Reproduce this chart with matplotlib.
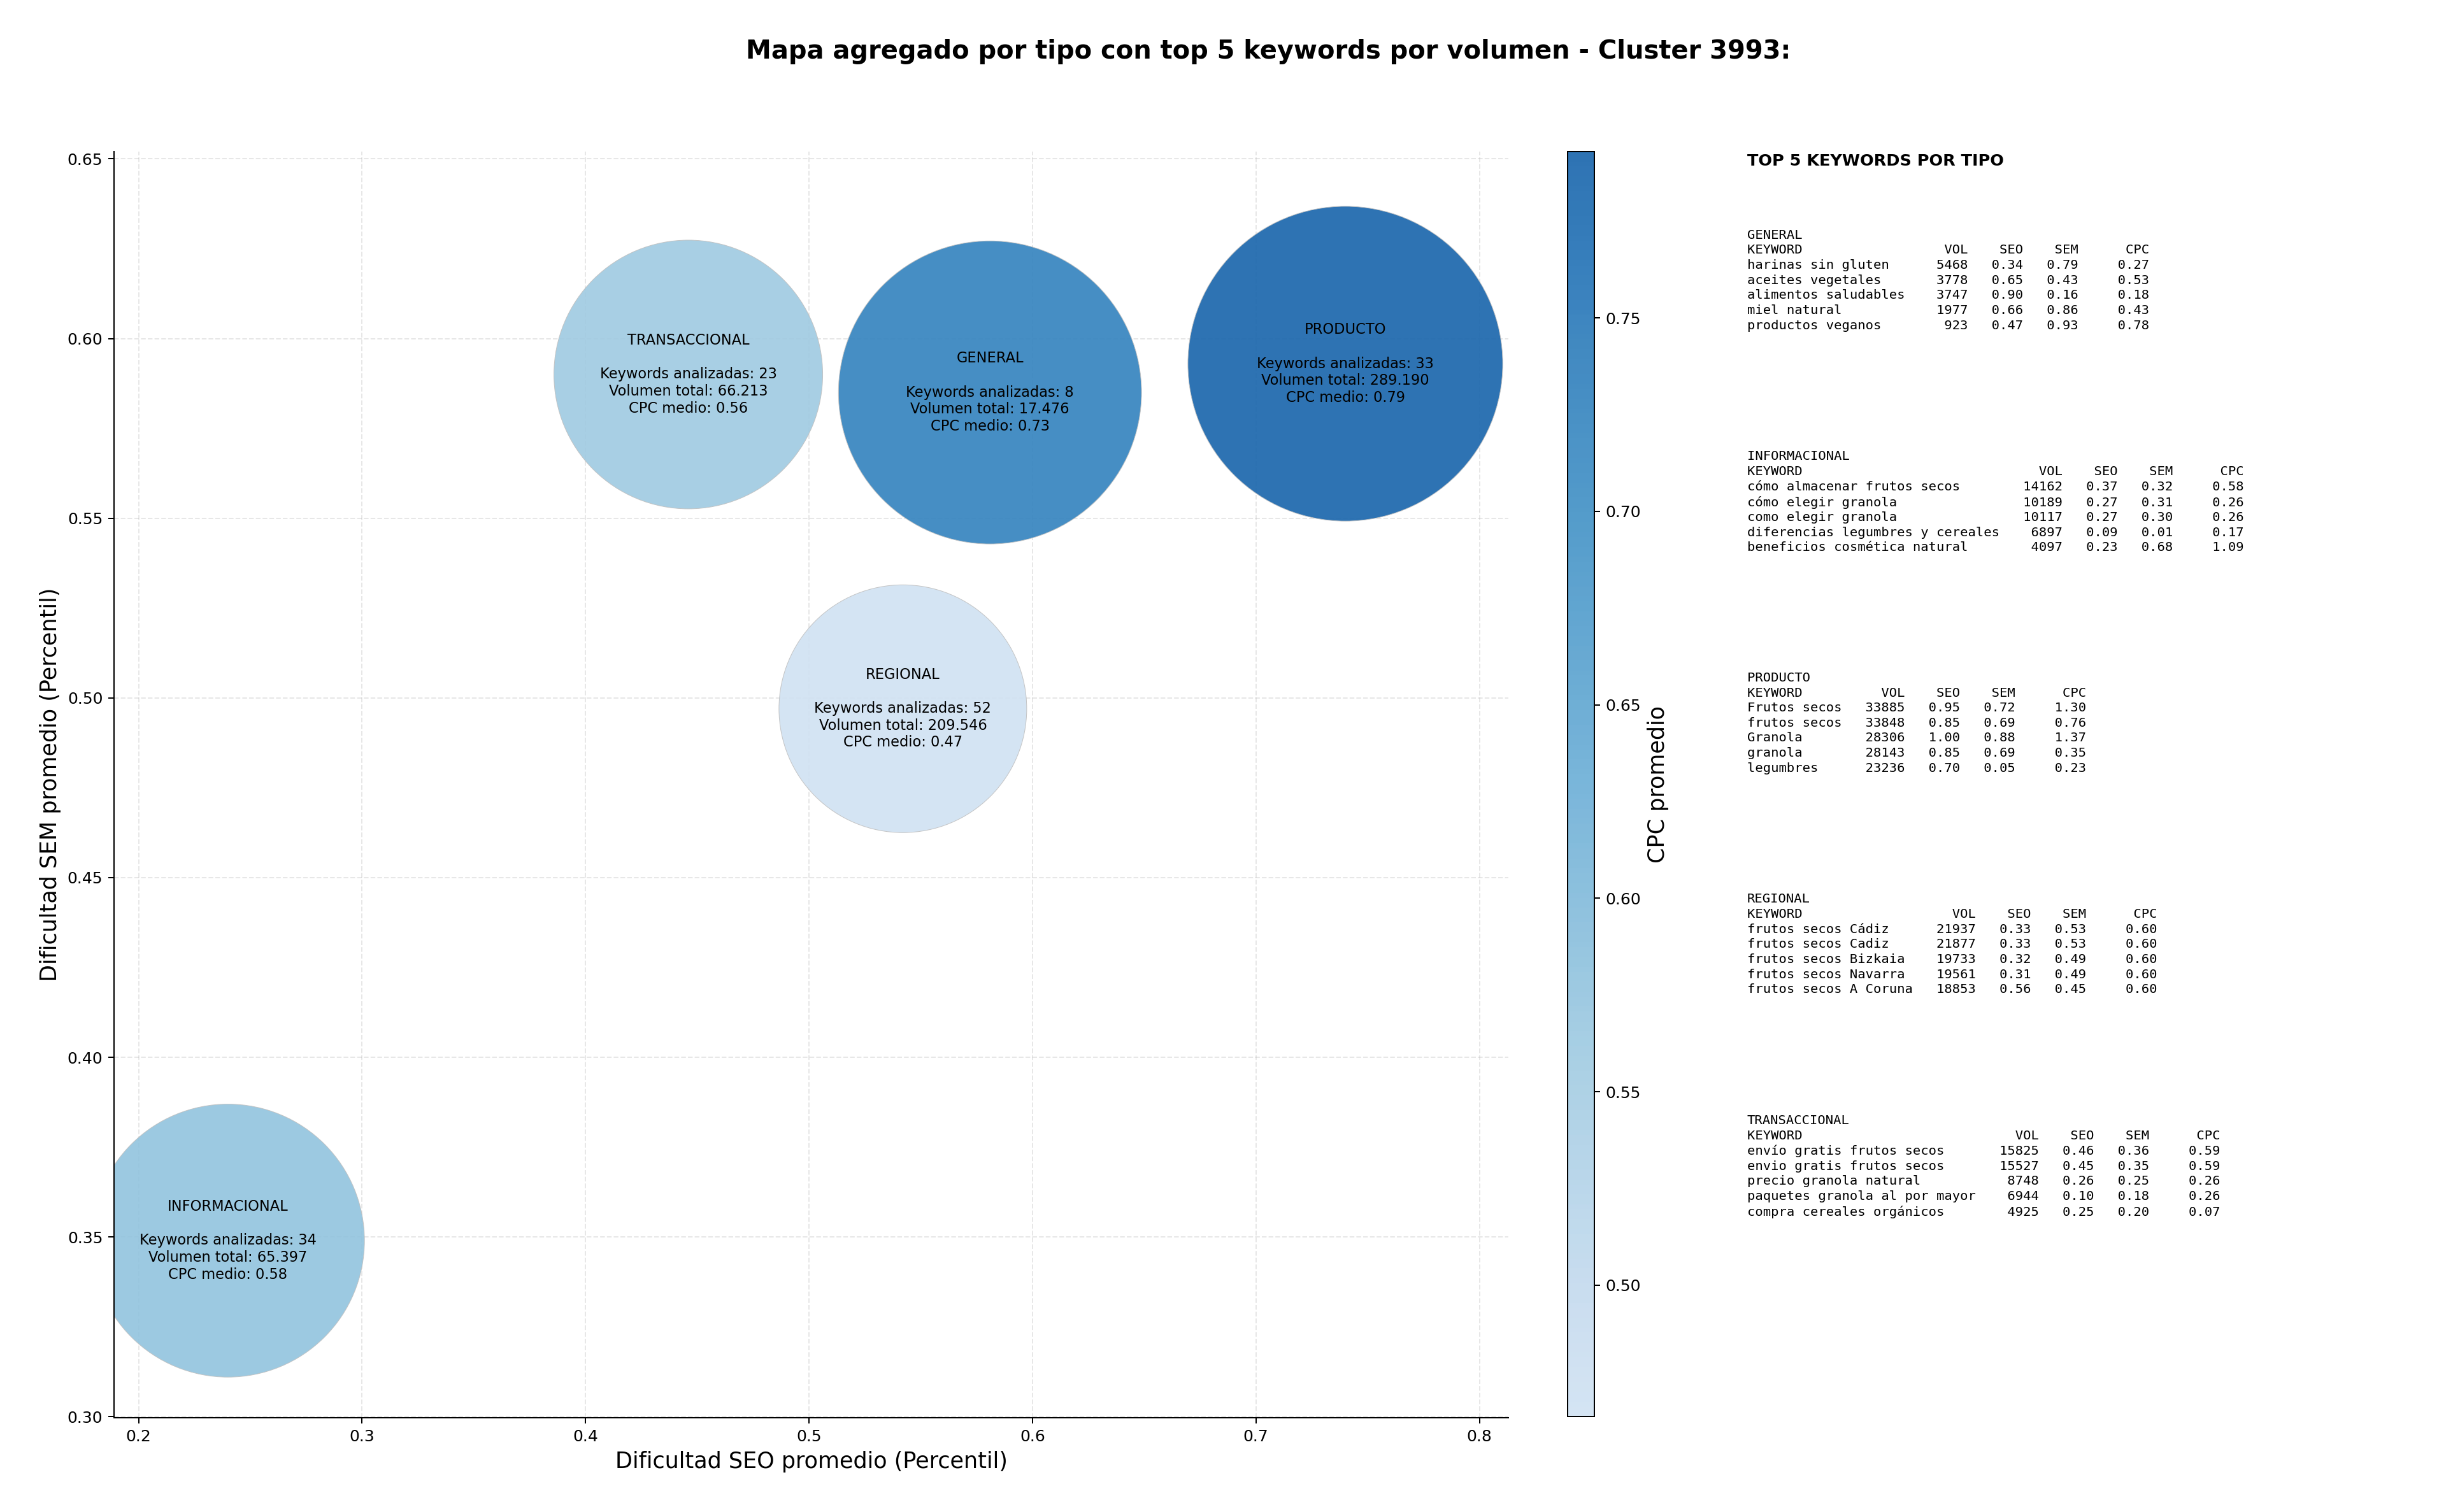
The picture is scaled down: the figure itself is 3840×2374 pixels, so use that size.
import numpy as np
import matplotlib
matplotlib.use("Agg")
import matplotlib.pyplot as plt
from matplotlib.colors import LinearSegmentedColormap, Normalize

# ---- aggregated values per type ----
TIPOS = ["GENERAL", "INFORMACIONAL", "PRODUCTO", "REGIONAL", "TRANSACCIONAL"]
SEO_MEAN = [0.581, 0.240, 0.740, 0.542, 0.446]
SEM_MEAN = [0.585, 0.349, 0.593, 0.497, 0.590]
CPC_MEAN = [0.730, 0.580, 0.793, 0.466, 0.560]
N_KEYWORDS = [8, 34, 33, 52, 23]
VOL_TOTAL = [17476, 65397, 289190, 209546, 66213]

# ---- top 5 keywords per type: keyword, vol, seo, sem, cpc ----
TOP_GENERAL = [
    ("harinas sin gluten", 5468, 0.34, 0.79, 0.27),
    ("aceites vegetales", 3778, 0.65, 0.43, 0.53),
    ("alimentos saludables", 3747, 0.90, 0.16, 0.18),
    ("miel natural", 1977, 0.66, 0.86, 0.43),
    ("productos veganos", 923, 0.47, 0.93, 0.78),
]
TOP_INFORMACIONAL = [
    ("cómo almacenar frutos secos", 14162, 0.37, 0.32, 0.58),
    ("cómo elegir granola", 10189, 0.27, 0.31, 0.26),
    ("como elegir granola", 10117, 0.27, 0.30, 0.26),
    ("diferencias legumbres y cereales", 6897, 0.09, 0.01, 0.17),
    ("beneficios cosmética natural", 4097, 0.23, 0.68, 1.09),
]
TOP_PRODUCTO = [
    ("Frutos secos", 33885, 0.95, 0.72, 1.30),
    ("frutos secos", 33848, 0.85, 0.69, 0.76),
    ("Granola", 28306, 1.00, 0.88, 1.37),
    ("granola", 28143, 0.85, 0.69, 0.35),
    ("legumbres", 23236, 0.70, 0.05, 0.23),
]
TOP_REGIONAL = [
    ("frutos secos Cádiz", 21937, 0.33, 0.53, 0.60),
    ("frutos secos Cadiz", 21877, 0.33, 0.53, 0.60),
    ("frutos secos Bizkaia", 19733, 0.32, 0.49, 0.60),
    ("frutos secos Navarra", 19561, 0.31, 0.49, 0.60),
    ("frutos secos A Coruna", 18853, 0.56, 0.45, 0.60),
]
TOP_TRANSACCIONAL = [
    ("envío gratis frutos secos", 15825, 0.46, 0.36, 0.59),
    ("envio gratis frutos secos", 15527, 0.45, 0.35, 0.59),
    ("precio granola natural", 8748, 0.26, 0.25, 0.26),
    ("paquetes granola al por mayor", 6944, 0.10, 0.18, 0.26),
    ("compra cereales orgánicos", 4925, 0.25, 0.20, 0.07),
]
TOP_BY_TIPO = [TOP_GENERAL, TOP_INFORMACIONAL, TOP_PRODUCTO, TOP_REGIONAL, TOP_TRANSACCIONAL]

CLUSTER_ID = 3993


def fmt_miles(v):
    return f"{v:,}".replace(",", ".")


def keyword_table(tipo, rows):
    w = max(len(r[0]) for r in rows)
    lines = [tipo, f"{'KEYWORD':<{w}}{'VOL':>8}{'SEO':>7}{'SEM':>7}{'CPC':>9}"]
    for kw, vol, seo, sem, cpc in rows:
        lines.append(f"{kw:<{w}}{vol:>8}{seo:>7.2f}{sem:>7.2f}{cpc:>9.2f}")
    return "\n".join(lines)


def main():
    dpi = 180
    fig = plt.figure(figsize=(3840 / dpi, 2374 / dpi), dpi=dpi)
    ax = fig.add_axes([0.0466, 0.0623, 0.5701, 0.8374])
    cax = fig.add_axes([0.6409, 0.0631, 0.0109, 0.8366])

    cmap = LinearSegmentedColormap.from_list(
        "blues_mid", plt.cm.Blues(np.linspace(0.2, 0.8, 256)))
    cpc = np.array(CPC_MEAN)
    norm = Normalize(vmin=cpc.min(), vmax=cpc.max())

    # bubble area grows with CPC
    sizes = 3000 + 45500 * cpc

    ax.set_axisbelow(True)
    ax.grid(True, linestyle="--", alpha=0.3)
    sc = ax.scatter(SEO_MEAN, SEM_MEAN, s=sizes, c=cpc, cmap=cmap, norm=norm,
                    alpha=0.9, edgecolors="#c0c0c0", linewidths=0.4, zorder=2)

    for tipo, x, y, n, vol, c in zip(TIPOS, SEO_MEAN, SEM_MEAN, N_KEYWORDS, VOL_TOTAL, CPC_MEAN):
        txt = (f"{tipo}\n\nKeywords analizadas: {n}\n"
               f"Volumen total: {fmt_miles(vol)}\nCPC medio: {c:.2f}")
        ax.text(x, y, txt, ha="center", va="center", fontsize=9, zorder=3)

    ax.set_xlim(0.189, 0.813)
    ax.set_ylim(0.2997, 0.652)
    ax.spines["top"].set_visible(False)
    ax.spines["right"].set_visible(False)
    ax.tick_params(labelsize=10)
    ax.set_xlabel("Dificultad SEO promedio (Percentil)", fontsize=14)
    ax.set_ylabel("Dificultad SEM promedio (Percentil)", fontsize=14)

    cb = fig.colorbar(sc, cax=cax)
    cb.set_label("CPC promedio", fontsize=14)
    cb.ax.tick_params(labelsize=10)

    fig.suptitle(f"Mapa agregado por tipo con top 5 keywords por volumen - Cluster {CLUSTER_ID}:",
                 x=0.5185, y=0.966, va="center", fontsize=16, fontweight="bold")

    # ---- keyword tables on the right ----
    fig.text(0.7143, 0.8985, "TOP 5 KEYWORDS POR TIPO", fontsize=10.2,
             fontweight="bold", va="top", ha="left")
    y0 = 0.8485
    step = 347.6 / 2374
    for i, (tipo, rows) in enumerate(zip(TIPOS, TOP_BY_TIPO)):
        fig.text(0.7143, y0 - i * step, keyword_table(tipo, rows), fontsize=8.2,
                 family="DejaVu Sans Mono", va="top", ha="left", linespacing=1.31)

    fig.savefig("out.png", dpi=dpi)


if __name__ == "__main__":
    main()
